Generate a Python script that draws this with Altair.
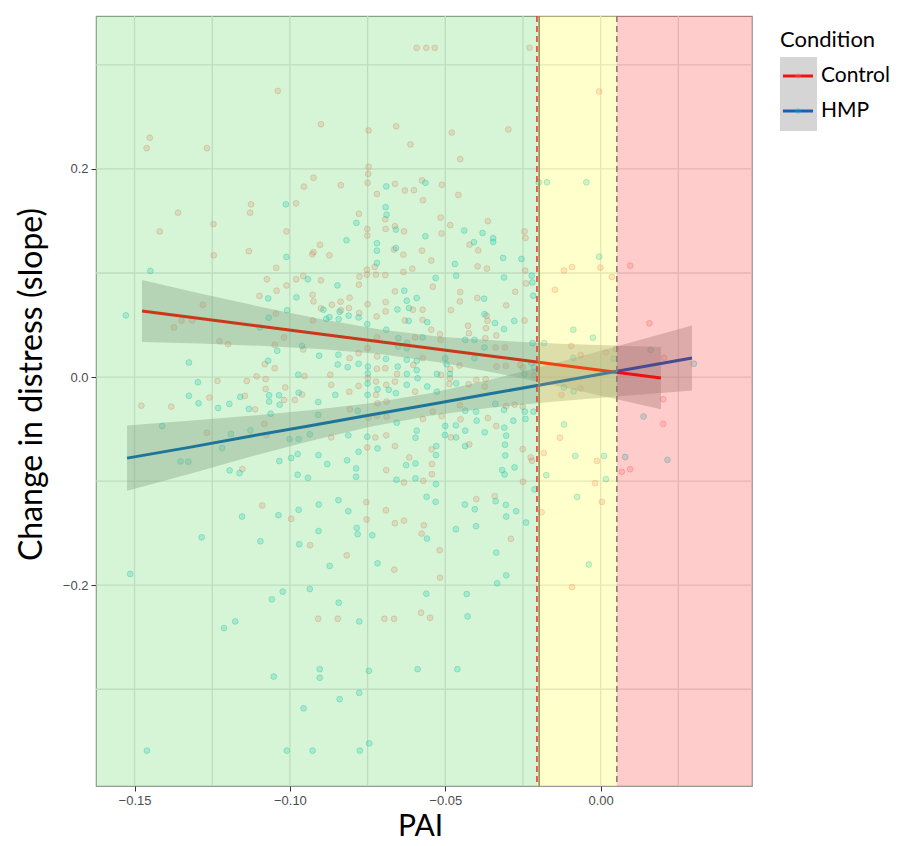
import altair as alt
import pandas as pd

# ---------------- data ----------------
conditions = ["Control", "HMP"]
line_colors = ["#ee1414", "#1a5fb4"]
point_colors = ["#F8766D", "#00BFC4"]

ctrl_x = [-0.1039, -0.0900, -0.1451, -0.1461, -0.1267, -0.0924, -0.0955, -0.1125, -0.1128, -0.0980, -0.1360, -0.1246, -0.1419, -0.1011, -0.0903, -0.0924, -0.0928, -0.1132, -0.1245, -0.1044, -0.1074, -0.0980, -0.0957, -0.0900, -0.1011, -0.1043, -0.1098, -0.0927, -0.0924, -0.1280, -0.1045, -0.1349, -0.1314, -0.1373, -0.0926, -0.0900, -0.1019, -0.1226, -0.1199, -0.1049, -0.0957, -0.1081, -0.1049, -0.1233, -0.1139, -0.1107, -0.1078, -0.1078, -0.1015, -0.0953, -0.1259, -0.1145, -0.0961,
          -0.1478, -0.1382, -0.1112, -0.1019, -0.0984, -0.1267, -0.1082, -0.1076, -0.1153, -0.1089, -0.0996, -0.0935, -0.0909,
          -0.0592, -0.0561, -0.0534, -0.0229, -0.0747, -0.0658, -0.0612, -0.0479, -0.0297, -0.0452, -0.0747, -0.0748, -0.0750, -0.0836, -0.0720, -0.0662, -0.0630, -0.0601, -0.0575, -0.0572, -0.0511, -0.0458, -0.0693, -0.0778, -0.0751, -0.0751, -0.0692, -0.0662, -0.0633, -0.0515, -0.0512, -0.0484, -0.0363, -0.0422, -0.0394, -0.0245, -0.0242, -0.0873, -0.0665, -0.0635, -0.0575, -0.0545, -0.0727, -0.0752, -0.0752, -0.0776, -0.0723, -0.0693, -0.0635, -0.0606, -0.0540, -0.0396, -0.0366, -0.0243, -0.0240, -0.0778, -0.0662, -0.0692, -0.0750, -0.0808, -0.0837, -0.0865, -0.0836, -0.0810, -0.0777, -0.0721, -0.0692, -0.0604, -0.0573, -0.0573, -0.0630, -0.0482, -0.0452, -0.0453, -0.0397, -0.0367, -0.0364, -0.0304, -0.0275, -0.0245, -0.0427, -0.0424, -0.0369, -0.0336, -0.0371, -0.0338, -0.0308, -0.0597, -0.0545, -0.0517, -0.0515, -0.0720, -0.0750, -0.0779, -0.0719, -0.0808, -0.0720, -0.0693, -0.0655, -0.0603, -0.0573, -0.0484, -0.0454, -0.0335, -0.0305, -0.0259, -0.0251, -0.0870, -0.0867, -0.0809, -0.0779, -0.0749, -0.0723, -0.0690, -0.0662, -0.0485, -0.0487, -0.0425, -0.0400, -0.0370, -0.0373, -0.0514, -0.0214, -0.0723, -0.0597,
          -0.0718, -0.0689, -0.0807, -0.0747, -0.0720, -0.0689, -0.0572, -0.0540, -0.0512, -0.0451, -0.0363, -0.0336, -0.0453, -0.0304, -0.0277, -0.0251, -0.0251, -0.0225, -0.0221, -0.0250, -0.0867, -0.0725, -0.0690, -0.0751, -0.0662, -0.0616, -0.0544, -0.0543, -0.0543, -0.0571, -0.0633, -0.0690, -0.0482, -0.0423, -0.0754, -0.0753, -0.0691, -0.0662, -0.0633, -0.0569, -0.0576, -0.0400, -0.0341, -0.0289, -0.0817, -0.0664, -0.0518, -0.0517, -0.0846, -0.0696, -0.0665, -0.0578, -0.0549,
          -0.0005, -0.0001, -0.0092, -0.0118, 0.0036, -0.0147, 0.0095, 0.0157, -0.0095, -0.0064, 0.0017, 0.0049, 0.0204, -0.0065, -0.0126, 0.0201, 0.0201, -0.0131, -0.0183, -0.0012, 0.0068, 0.0095, -0.0018, 0.0004, -0.0190, -0.0092]
ctrl_y = [0.2750, 0.2430, 0.2300, 0.2200, 0.2200, 0.1915, 0.1830, 0.1660, 0.1580, 0.1670, 0.1580, 0.1470, 0.1400, 0.1400, 0.1270, 0.1200, 0.1180, 0.1210, 0.1170, 0.1050, 0.0940, 0.0940, 0.0970, 0.0930, 0.0880, 0.0830, 0.0780, 0.0790, 0.0727, 0.0695, 0.0610, 0.0544, 0.0544, 0.0477, 0.0544, 0.0660, 0.0380, 0.0345, 0.0316, 0.0310, 0.0265, 0.0124, 0.0085, -0.0037, -0.0037, 0.0007, -0.0020, -0.0114, -0.0100, 0.0010, -0.0197, -0.0180, -0.0167,
          -0.0275, -0.0284, -0.0310, -0.0220, -0.0220, -0.0535, -0.0450, -0.0557, -0.0884, -0.1234, -0.1363, -0.1616, -0.2323,
          0.3164, 0.3164, 0.3164, 0.3164, 0.2370, 0.2410, 0.2236, 0.2350, 0.2380, 0.2095, 0.2020, 0.1953, 0.1867, 0.1844, 0.1760, 0.1857, 0.1793, 0.1796, 0.1890, 0.1700, 0.1848, 0.1750, 0.1517, 0.1570, 0.1424, 0.1360, 0.1424, 0.1450, 0.1400, 0.1533, 0.1380, 0.1460, 0.1498, 0.1273, 0.1218, 0.1400, 0.1337, 0.1170, 0.1225, 0.1177, 0.1215, 0.1120, 0.1058, 0.1032, 0.0984, 0.0965, 0.0984, 0.0980, 0.1010, 0.1042, 0.0869, 0.1064, 0.1042, 0.1023, 0.0900, 0.0888, 0.0824, 0.0721, 0.0700, 0.0763, 0.0724, 0.0695, 0.0644, 0.0663, 0.0615, 0.0583, 0.0631, 0.0647, 0.0647, 0.0550, 0.0544, 0.0644, 0.0817, 0.0727, 0.0760, 0.0590, 0.0541, 0.0689, 0.0820, 0.0544, 0.0493, 0.0422, 0.0470, 0.0400, 0.0374, 0.0284, 0.0284, 0.0381, 0.0455, 0.0413, 0.0358, 0.0381, 0.0278, 0.0230, 0.0198, 0.0182, 0.0079, 0.0085, 0.0030, 0.0117, 0.0182, 0.0076, 0.0111, 0.0101, 0.0108, 0.0117, 0.0092, 0.0022, -0.0075, -0.0140, -0.0085, -0.0011, -0.0043, -0.0075, -0.0043, -0.0011, -0.0066, -0.0069, -0.0027, -0.0020, -0.0091, 0.0021, 0.0017, -0.0171, -0.0140,
          -0.0253, -0.0236, -0.0310, -0.0390, -0.0374, -0.0380, -0.0403, -0.0332, -0.0374, -0.0406, -0.0393, -0.0470, -0.0271, -0.0278, -0.0265, -0.0284, -0.0692, -0.0772, -0.0804, -0.1006, -0.0580, -0.0580, -0.0560, -0.0676, -0.0663, -0.0772, -0.0695, -0.0836, -0.0933, -0.0997, -0.1013, -0.0894, -0.0580, -0.0647, -0.1202, -0.1369, -0.1280, -0.1404, -0.1379, -0.1424, -0.1504, -0.1173, -0.1144, -0.1555, -0.1713, -0.1851, -0.1664, -0.1928, -0.2323, -0.2323, -0.2323, -0.2265, -0.2313,
          0.2744, 0.1052, 0.1057, 0.1024, 0.0962, 0.0839, 0.1071, 0.0517, 0.0299, 0.0213, 0.0237, 0.0270, 0.0185, -0.0109, -0.0171, -0.0213, -0.0450, -0.0583, -0.0730, -0.0806, -0.0910, -0.0886, -0.1019, -0.1200, -0.1299, -0.2019]

hmp_x = [-0.1013, -0.1011, -0.1449, -0.0942, -0.1070, -0.0979, -0.1528, -0.1009, -0.1068, -0.1097, -0.1041, -0.0961, -0.0906, -0.1325, -0.1070, -0.1296, -0.0973, -0.1325, -0.1160, -0.1067, -0.1035, -0.0972,
         -0.1294, -0.1231, -0.1195, -0.1132, -0.1067, -0.1033, -0.1062, -0.0909, -0.0909, -0.1411, -0.1190, -0.1127, -0.1001, -0.0972, -0.0936, -0.1218, -0.1352, -0.1327, -0.1194, -0.1162, -0.1034, -0.0996, -0.0975, -0.0908, -0.0975, -0.0942, -0.1154, -0.1037, -0.0972, -0.0907, -0.0908, -0.1284, -0.1095, -0.0970, -0.1514, -0.1058, -0.1023, -0.0936, -0.1176, -0.1212, -0.1052, -0.0904, -0.0904, -0.0956, -0.1460, -0.1010, -0.0927,
         -0.0690, -0.0564, -0.0692, -0.0689, -0.0786, -0.0659, -0.0564, -0.0439, -0.0380, -0.0346, -0.0346, -0.0408, -0.0818, -0.0720, -0.0720, -0.0659, -0.0720, -0.0469, -0.0465, -0.0531, -0.0314, -0.0255, -0.0222, -0.0220, -0.0311, -0.0847, -0.0632, -0.0624, -0.0592, -0.0892, -0.0840, -0.0873, -0.0883, -0.0843, -0.0811, -0.0779, -0.0654, -0.0617, -0.0558, -0.0618, -0.0690, -0.0751, -0.0375, -0.0374, -0.0340, -0.0278, -0.0217, -0.0311, -0.0436, -0.0406, -0.0374, -0.0219, -0.0573, -0.0651, -0.0652, -0.0623, -0.0624, -0.0691, -0.0844, -0.0846, -0.0814, -0.0779, -0.0749, -0.0749, -0.0653, -0.0624, -0.0592, -0.0592, -0.0500, -0.0496, -0.0485, -0.0527, -0.0406, -0.0223, -0.0750, -0.0718, -0.0624, -0.0624, -0.0589, -0.0558, -0.0465, -0.0245, -0.0214, -0.0854, -0.0750, -0.0682, -0.0659, -0.0527,
         -0.0782, -0.0656, -0.0500, -0.0466, -0.0436, -0.0401, -0.0399, -0.0339, -0.0373, -0.0436, -0.0311, -0.0244, -0.0216, -0.0242, -0.0281, -0.0310, -0.0304, -0.0308, -0.0307, -0.0277, -0.0317, -0.0309, -0.0213, -0.0812, -0.0751, -0.0718, -0.0779, -0.0592, -0.0596, -0.0626, -0.0596, -0.0529, -0.0530, -0.0596, -0.0657, -0.0787, -0.0787, -0.0816, -0.0880, -0.0501, -0.0465, -0.0436, -0.0530, -0.0560, -0.0531, -0.0559, -0.0844, -0.0812, -0.0785, -0.0782, -0.0735, -0.0437, -0.0405, -0.0401, -0.0466, -0.0338, -0.0305, -0.0304, -0.0272, -0.0240, -0.0336, -0.0872, -0.0718, -0.0304, -0.0333, -0.0561, -0.0431, -0.0843, -0.0777, -0.0428, -0.0746, -0.0589, -0.0461, -0.0777, -0.0840, -0.0745, -0.0775,
         -0.0199, -0.0173, -0.0046, -0.0005, -0.0088, -0.0025, -0.0088, -0.0182, 0.0042, 0.0161, 0.0300, -0.0118, -0.0087, 0.0138, -0.0118, -0.0082, 0.0011, 0.0079, 0.0215, -0.0175, 0.0017, -0.0076, -0.0038]
hmp_y = [0.1660, 0.1155, 0.1020, 0.0940, 0.0756, 0.0766, 0.0593, 0.0642, 0.0570, 0.0477, 0.0253, 0.0300, 0.0205, 0.0140, 0.0157, -0.0050, 0.0023, -0.0180, -0.0190, -0.0175, -0.0175, -0.0150,
         -0.0252, -0.0297, -0.0258, -0.0307, -0.0236, -0.0265, -0.0352, -0.0240, -0.0364, -0.0470, -0.0547, -0.0512, -0.0596, -0.0596, -0.0550, -0.0682, -0.0810, -0.0814, -0.0897, -0.0923, -0.0807, -0.0778, -0.0740, -0.0750, -0.0939, -0.0968, -0.1340, -0.1327, -0.1276, -0.1225, -0.1480, -0.1540, -0.1578, -0.1607, -0.1892, -0.2136, -0.2062, -0.2037, -0.2348, -0.2412, -0.2878, -0.2807, -0.2890, -0.3183, -0.3590, -0.3590, -0.3590,
         0.1832, 0.1867, 0.1633, 0.1560, 0.1482, 0.1417, 0.1353, 0.1408, 0.1385, 0.1334, 0.1299, 0.1296, 0.1315, 0.1286, 0.1215, 0.1240, 0.1096, 0.1087, 0.0974, 0.0952, 0.1145, 0.1135, 0.0974, 0.0910, 0.0958, 0.0881, 0.0830, 0.0734, 0.0760, 0.0647, 0.0628, 0.0576, 0.0560, 0.0557, 0.0590, 0.0573, 0.0650, 0.0663, 0.0528, 0.0540, 0.0455, 0.0509, 0.0753, 0.0605, 0.0519, 0.0540, 0.0782, 0.0461, 0.0358, 0.0358, 0.0284, 0.0326, 0.0381, 0.0374, 0.0294, 0.0329, 0.0278, 0.0175, 0.0214, 0.0121, 0.0095, 0.0127, 0.0101, 0.0034, 0.0101, 0.0166, 0.0156, 0.0066, 0.0182, 0.0124, 0.0030, 0.0030, 0.0182, 0.0134, -0.0063, -0.0117, 0.0030, -0.0075, -0.0011, -0.0091, -0.0060, 0.0030, 0.0092, -0.0171, -0.0171, -0.0123, -0.0155, -0.0140,
         -0.0323, -0.0438, -0.0470, -0.0464, -0.0323, -0.0332, -0.0419, -0.0258, -0.0531, -0.0515, -0.0316, -0.0332, -0.0332, -0.0403, -0.0419, -0.0486, -0.0563, -0.0650, -0.0753, -0.0868, -0.0894, -0.0936, -0.1080, -0.0560, -0.0573, -0.0685, -0.0718, -0.0515, -0.0583, -0.0846, -0.0830, -0.0663, -0.0750, -0.0974, -0.0987, -0.0878, -0.0958, -0.0800, -0.0836, -0.0557, -0.0580, -0.0663, -0.1029, -0.1151, -0.1199, -0.1552, -0.1183, -0.1289, -0.1449, -0.1510, -0.1520, -0.1225, -0.1270, -0.1433, -0.1462, -0.1193, -0.1228, -0.1340, -0.1289, -0.1398, -0.1687, -0.1815, -0.1790, -0.1905, -0.1982, -0.2082, -0.2085, -0.2168, -0.2348, -0.2300, -0.2823, -0.2807, -0.2807, -0.3035, -0.3096, -0.3520, -0.3590,
         0.1872, 0.1872, 0.1872, 0.1157, 0.0455, 0.0379, 0.0185, 0.0327, 0.0175, 0.0261, 0.0128, -0.0100, -0.0137, -0.0379, -0.0455, -0.0758, -0.0758, -0.0768, -0.0796, -0.0943, -0.0981, -0.1152, -0.1801]

# fitted lines with confidence bands
ctrl_fit_x = [-0.1476, -0.1289, -0.1096, -0.0903, -0.0710, -0.0517, -0.0324, -0.0131, 0.0062, 0.0194]
ctrl_fit = [0.0635, 0.0563, 0.0488, 0.0413, 0.0339, 0.0264, 0.0190, 0.0115, 0.0041, -0.0010]
ctrl_lo = [0.0338, 0.0322, 0.0300, 0.0269, 0.0221, 0.0140, 0.0032, -0.0091, -0.0220, -0.0310]
ctrl_hi = [0.0932, 0.0804, 0.0676, 0.0557, 0.0457, 0.0388, 0.0348, 0.0321, 0.0302, 0.0290]
hmp_fit_x = [-0.1524, -0.1315, -0.1128, -0.0935, -0.0742, -0.0549, -0.0356, -0.0163, 0.0030, 0.0294]
hmp_fit = [-0.0779, -0.0671, -0.0569, -0.0467, -0.0365, -0.0263, -0.0161, -0.0059, 0.0043, 0.0183]
hmp_lo = [-0.1092, -0.0924, -0.0766, -0.0615, -0.0478, -0.0371, -0.0296, -0.0239, -0.0191, -0.0130]
hmp_hi = [-0.0466, -0.0418, -0.0372, -0.0319, -0.0252, -0.0155, -0.0026, 0.0121, 0.0277, 0.0496]

# shaded zones and cut-offs
zone_start = [-0.1624, -0.0203, 0.0052]
zone_end = [-0.0203, 0.0052, 0.0487]
zone_colors = ["#32cd32", "#ffff00", "#ff0000"]
cut_values = [-0.0205, -0.0198, 0.0052]
cut_colors = ["#ee3b3b", "#8f8f52", "#8c7d72"]
cut_dash = [[6, 4], [1, 0], [6, 4]]

x_ticks = [-0.15, -0.10, -0.05, 0.00]
x_minor = [-0.125, -0.075, -0.025, 0.025]
y_ticks = [-0.2, 0.0, 0.2]
y_minor = [-0.3, -0.1, 0.1, 0.3]
x_domain = [-0.1624, 0.0487]
y_domain = [-0.393, 0.347]

x_title = "PAI"
y_title = "Change in distress (slope)"
legend_title = "Condition"

# ---------------- chart ----------------
W, H = 656, 770
xs = alt.Scale(domain=x_domain, nice=False, zero=False)
ys = alt.Scale(domain=y_domain, nice=False, zero=False)

common_axis = dict(grid=False, domain=False, tickColor="#333333", tickSize=5, tickWidth=1,
                   labelFont="Liberation Sans", labelFontSize=13, labelColor="#4d4d4d", labelPadding=3,
                   titleFont="Lato", titleFontWeight="normal", titleColor="#000000")
xaxis = alt.Axis(values=x_ticks, format=".2f", titleX=W / 2 - 4, titleY=40, titleBaseline="middle",
                 titleFontSize=30, **common_axis)
yaxis = alt.Axis(values=y_ticks, format=".1f", titleX=-65, titleY=H / 2 - 17, titleAngle=270,
                 titleAlign="center", titleBaseline="middle", titleFontSize=32, **common_axis)


def X(f):
    return alt.X(f, type="quantitative", scale=xs, axis=xaxis, title=x_title)


def Y(f):
    return alt.Y(f, type="quantitative", scale=ys, axis=yaxis, title=y_title)


layers = []

# grid lines
grid_x = pd.DataFrame({"v": x_ticks + x_minor})
grid_y = pd.DataFrame({"v": y_ticks + y_minor})
layers.append(alt.Chart(grid_x).mark_rule(color="#e2e2e2", strokeWidth=1.3).encode(x=X("v")))
layers.append(alt.Chart(grid_y).mark_rule(color="#e2e2e2", strokeWidth=1.3).encode(y=Y("v")))

# points
pts = pd.DataFrame({
    "x": ctrl_x + hmp_x,
    "y": ctrl_y + hmp_y,
    "Condition": [conditions[0]] * len(ctrl_x) + [conditions[1]] * len(hmp_x),
})
pscale = alt.Scale(domain=conditions, range=point_colors)
layers.append(
    alt.Chart(pts).mark_circle(size=34, fillOpacity=0.22, strokeOpacity=0.32, strokeWidth=1).encode(
        x=X("x"), y=Y("y"),
        fill=alt.Fill("Condition:N", scale=pscale, legend=None),
        stroke=alt.Stroke("Condition:N", scale=pscale, legend=None),
    )
)

# confidence bands and fitted lines
fits = [
    pd.DataFrame({"x": ctrl_fit_x, "fit": ctrl_fit, "lo": ctrl_lo, "hi": ctrl_hi}),
    pd.DataFrame({"x": hmp_fit_x, "fit": hmp_fit, "lo": hmp_lo, "hi": hmp_hi}),
]
for df in fits:
    layers.append(alt.Chart(df).mark_area(color="#999999", opacity=0.4).encode(x=X("x"), y=Y("lo"), y2="hi:Q"))
for df, col in zip(fits, line_colors):
    layers.append(alt.Chart(df).mark_line(color=col, strokeWidth=3).encode(x=X("x"), y=Y("fit")))

# shaded zones on top
for s, e, c in zip(zone_start, zone_end, zone_colors):
    zdf = pd.DataFrame({"s": [s], "e": [e]})
    layers.append(alt.Chart(zdf).mark_rect(color=c, opacity=0.2).encode(x=X("s"), x2="e:Q"))

# cut-off lines
for v, c, d in zip(cut_values, cut_colors, cut_dash):
    layers.append(alt.Chart(pd.DataFrame({"v": [v]})).mark_rule(color=c, strokeWidth=1.6, strokeDash=d).encode(x=X("v")))

# legend (drawn to the right of the panel)
one = pd.DataFrame({"t": [legend_title]})
legend_rows = [60.0, 95.0]
layers.append(alt.Chart(one).mark_rect(color="#d5d5d5").encode(
    x=alt.value(684), x2=alt.value(721), y=alt.value(41), y2=alt.value(115)))
layers.append(alt.Chart(one).mark_text(align="left", baseline="alphabetic", font="Lato", fontSize=22,
                                       color="#000000").encode(x=alt.value(684), y=alt.value(31), text="t:N"))
for cond, lc, pc, ly in zip(conditions, line_colors, point_colors, legend_rows):
    ldf = pd.DataFrame({"t": [cond]})
    layers.append(alt.Chart(ldf).mark_rule(color=lc, strokeWidth=3).encode(
        x=alt.value(687), x2=alt.value(717), y=alt.value(ly)))
    layers.append(alt.Chart(ldf).mark_circle(color=pc, size=32, opacity=0.3).encode(
        x=alt.value(702), y=alt.value(ly)))
    layers.append(alt.Chart(ldf).mark_text(align="left", baseline="middle", font="Lato", fontSize=21,
                                           color="#000000").encode(x=alt.value(725), y=alt.value(ly), text="t:N"))

chart = alt.layer(*layers).properties(
    width=W, height=H,
    padding={"left": 7, "top": 7, "right": 0, "bottom": 0},
    background="#ffffff",
).configure_view(stroke="#999999", strokeWidth=1.2)

chart.save("out.html", embed_options={"renderer": "svg", "actions": False})
